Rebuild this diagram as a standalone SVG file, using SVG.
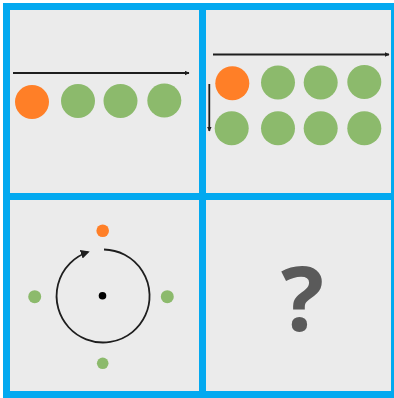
<svg xmlns="http://www.w3.org/2000/svg" width="394" height="398" viewBox="0 0 394 398">
<style>
.cell{fill:#ebebeb}
.frame{fill:none;stroke:#03a9f0;stroke-width:7}
.orange{fill:#ff7f27}
.green{fill:#8cba6c}
.conn{fill:none;stroke:#1e1e1e;stroke-width:1.8}
.q{font-family:"Open Sans","Liberation Sans",sans-serif;font-weight:bold;font-size:90px;fill:#5a5a5a}
</style>
<defs>
<marker id="ah" viewBox="0 0 10 10" refX="9" refY="5" markerWidth="5" markerHeight="5" orient="auto" markerUnits="userSpaceOnUse">
<path d="M0,0 L10,5 L0,10 z" fill="#1e1e1e"/>
</marker>
<marker id="ah2" viewBox="0 0 10 10" refX="8" refY="5" markerWidth="9" markerHeight="9" orient="auto" markerUnits="userSpaceOnUse">
<path d="M0,0 L10,5 L0,10 z" fill="#1e1e1e"/>
</marker>
</defs>
<rect x="0" y="0" width="394" height="398" fill="#ffffff"/>
<rect class="cell" x="6.5" y="6.5" width="388" height="388"/>
<g id="connectors">
<line class="conn" x1="13" y1="73" x2="189" y2="73" marker-end="url(#ah)"/>
<line class="conn" x1="213" y1="54.5" x2="389" y2="54.5" marker-end="url(#ah)"/>
<line class="conn" x1="209.3" y1="84" x2="209.3" y2="131" marker-end="url(#ah)"/>
<path class="conn" d="M104,249.5 A46.5,46.5 0 1 1 88,252" marker-end="url(#ah2)"/>
</g>
<g id="cell1">
<circle id="n1" class="orange" cx="32" cy="102" r="17"/>
<circle id="n2" class="green" cx="78" cy="101" r="17"/>
<circle id="n3" class="green" cx="120.5" cy="101" r="17"/>
<circle id="n4" class="green" cx="164.3" cy="100.5" r="17"/>
</g>
<g id="cell2">
<circle id="m1" class="orange" cx="232.3" cy="83.3" r="17"/>
<circle id="m2" class="green" cx="278" cy="82.5" r="17"/>
<circle id="m3" class="green" cx="320.7" cy="82.5" r="17"/>
<circle id="m4" class="green" cx="364.3" cy="82" r="17"/>
<circle id="m5" class="green" cx="231.7" cy="128.3" r="17"/>
<circle id="m6" class="green" cx="278" cy="128.3" r="17"/>
<circle id="m7" class="green" cx="320.7" cy="128.3" r="17"/>
<circle id="m8" class="green" cx="364.3" cy="128.3" r="17"/>
</g>
<g id="cell3">
<circle id="d1" class="orange" cx="102.7" cy="230.7" r="6.3"/>
<circle id="d2" class="green" cx="34.7" cy="296.7" r="6.5"/>
<circle id="d3" class="green" cx="167.3" cy="296.7" r="6.5"/>
<circle id="d4" class="green" cx="102.7" cy="363.3" r="5.8"/>
<circle id="d5" fill="#000" cx="102.5" cy="295.8" r="3.8"/>
</g>
<g id="cell4">
<text class="q" x="302.5" y="331" text-anchor="middle">?</text>
</g>
<g id="grid">
<rect class="frame" x="6.5" y="6.5" width="388" height="388"/>
<line class="frame" x1="202.5" y1="3" x2="202.5" y2="398"/>
<line class="frame" x1="3" y1="196.5" x2="394" y2="196.5"/>
</g>
</svg>
